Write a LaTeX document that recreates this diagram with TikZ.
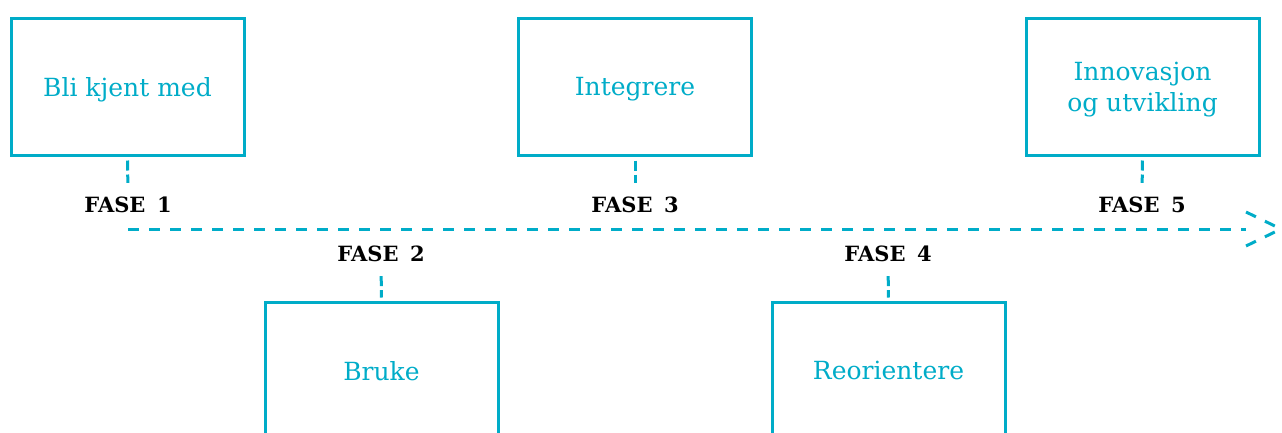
\documentclass[tikz,border=0pt]{standalone}
\usepackage{fontspec}
\setmainfont{DejaVu Serif}
\usetikzlibrary{positioning}
\definecolor{fasecyan}{RGB}{0,172,200}

\begin{document}
\begin{tikzpicture}[x=1pt, y=-1pt,
    fase/.style={draw=fasecyan, line width=3pt, minimum width=233pt, minimum height=137pt,
      inner sep=0pt, text depth=0pt, align=center, text=fasecyan, font=\fontsize{25}{31}\selectfont},
    faselabel/.style={inner sep=0pt, font=\bfseries\fontsize{21}{24}\selectfont},
    tidslinje/.style={fasecyan, line width=3pt, dash pattern=on 11pt off 10pt},
    tick/.style={fasecyan, line width=3pt, dash pattern=on 10pt off 4pt}]
    \useasboundingbox (0,0) rectangle (1282,432);
    \node[fase] (b1) at (127.5,86.5) {Bli kjent med};
    \node[fase] (b3) at (635,86.5) {Integrere};
    \node[fase] (b5) at (1142.5,86.5) {Innovasjon\\og utvikling};
    \node[fase] (b2) at (381.5,370.5) {Bruke};
    \node[fase] (b4) at (888.5,370.5) {Reorientere};
    \node[faselabel] (f1) at (128,205) {FASE\hspace{0.55em}1};
    \node[faselabel] (f3) at (635,205) {FASE\hspace{0.55em}3};
    \node[faselabel] (f5) at (1142,205) {FASE\hspace{0.55em}5};
    \node[faselabel] (f2) at (381,254) {FASE\hspace{0.55em}2};
    \node[faselabel] (f4) at (888,254) {FASE\hspace{0.55em}4};
    \coordinate (start) at (128,229);
    \coordinate (slutt) at (1281,229);
    \draw[tidslinje] (start) -- ([xshift=-35pt]slutt);
    \draw[tidslinje] ([shift={(-35,-17)}]slutt) -- (slutt);
    \draw[tidslinje] ([shift={(-35,17)}]slutt) -- (slutt);
    \foreach \n in {1,3,5}
      \draw[tick, shorten <=4pt, shorten >=14pt] (b\n.south) -- (f\n.north);
    \foreach \n in {2,4}
      \draw[tick, shorten <=14pt, shorten >=3pt] (f\n.south) -- (b\n.north);
\end{tikzpicture}
\end{document}
